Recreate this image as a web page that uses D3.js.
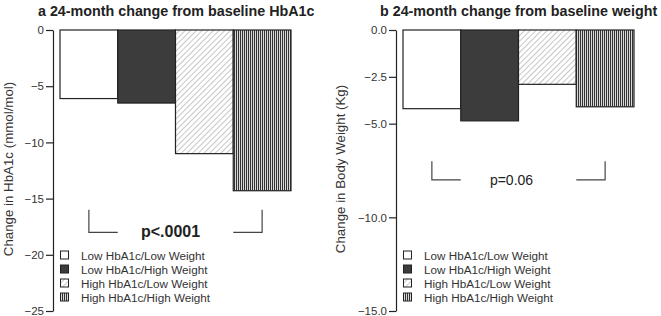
<!DOCTYPE html>
<html>
<head>
<meta charset="utf-8">
<script src="https://cdn.jsdelivr.net/npm/d3@7"></script>
<style>
  body { margin: 0; background: #fff; }
  svg { display: block; font-family: "Liberation Sans", Arial, sans-serif; }
</style>
</head>
<body>
<div id="chart"></div>
<script>
// groups shared by both panels
var groups = ["Low HbA1c/Low Weight", "Low HbA1c/High Weight", "High HbA1c/Low Weight", "High HbA1c/High Weight"];

// panel a: HbA1c change (mmol/mol)
var hba1cChange = [-6.1, -6.5, -11.0, -14.3];
var hba1cTicks = [0, -5, -10, -15, -20, -25];

// panel b: weight change (Kg)
var weightChange = [-4.2, -4.85, -2.9, -4.1];
var weightTicks = [0, -2.5, -5, -10, -15];

var width = 661, height = 316;

var svg = d3.select("#chart").append("svg")
    .attr("width", width)
    .attr("height", height);

// fill patterns
var defs = svg.append("defs");
var hatch = defs.append("pattern")
    .attr("id", "hatch")
    .attr("patternUnits", "userSpaceOnUse")
    .attr("width", 4).attr("height", 4)
    .attr("patternTransform", "rotate(45)");
hatch.append("rect").attr("width", 4).attr("height", 4).attr("fill", "#fff");
hatch.append("line")
    .attr("x1", 0).attr("y1", 0).attr("x2", 0).attr("y2", 4)
    .attr("stroke", "#b8b8b8").attr("stroke-width", 1.6);

var vstripe = defs.append("pattern")
    .attr("id", "vstripe")
    .attr("patternUnits", "userSpaceOnUse")
    .attr("width", 2).attr("height", 4);
vstripe.append("rect").attr("width", 2).attr("height", 4).attr("fill", "#d8d8d8");
vstripe.append("rect").attr("width", 1).attr("height", 4).attr("fill", "#333");

var fills = ["#fff", "#3c3c3c", "url(#hatch)", "url(#vstripe)"];

/*
 * drawPanel
 * Draws one bar panel with its axis, bracket, p-value and legend.
 */
function drawPanel(p) {
    var g = svg.append("g");

    var x = d3.scaleBand()
        .domain(groups)
        .range(p.xRange)
        .padding(0);

    var y = d3.scaleLinear()
        .domain(p.yDomain)
        .range([30, 311]);

    // title
    g.append("text")
        .attr("x", p.titleX)
        .attr("y", 16)
        .attr("font-size", "14.3px")
        .attr("font-weight", "bold")
        .attr("fill", "#222")
        .text(p.title);

    // bars
    g.selectAll("rect.bar")
        .data(p.values)
        .enter().append("rect")
        .attr("class", "bar")
        .attr("x", function(d, i) { return x(groups[i]); })
        .attr("y", y(0))
        .attr("width", x.bandwidth())
        .attr("height", function(d) { return y(d) - y(0); })
        .attr("fill", function(d, i) { return fills[i]; })
        .attr("stroke", "#222")
        .attr("stroke-width", 1.2);

    // y axis
    var axis = d3.axisLeft(y)
        .tickValues(p.ticks)
        .tickFormat(p.fmt)
        .tickSize(7)
        .tickSizeOuter(0)
        .tickPadding(2);

    var ag = g.append("g")
        .attr("transform", "translate(" + p.axisX + ",0)")
        .call(axis);
    ag.select(".domain").attr("stroke", "#222").attr("stroke-width", 1.2);
    ag.selectAll(".tick line").attr("stroke", "#222").attr("stroke-width", 1.2);
    ag.selectAll(".tick text")
        .attr("font-size", "11.5px")
        .attr("font-family", "'Liberation Sans', Arial, sans-serif")
        .attr("fill", "#333");

    // y label
    g.append("text")
        .attr("transform", "translate(" + p.labelX + ",169) rotate(-90)")
        .attr("text-anchor", "middle")
        .attr("font-size", "13.3px")
        .attr("fill", "#333")
        .text(p.yLabel);

    // significance bracket
    var c1 = x(groups[0]) + x.bandwidth() / 2,
        e1 = x(groups[0]) + x.bandwidth(),
        s4 = x(groups[3]),
        c4 = x(groups[3]) + x.bandwidth() / 2;
    var yt = y(p.bracket[0]), yb = y(p.bracket[1]);
    g.append("path")
        .attr("d", "M" + c1 + "," + yt + "V" + yb + "H" + e1)
        .attr("fill", "none").attr("stroke", "#444").attr("stroke-width", 1.2);
    g.append("path")
        .attr("d", "M" + s4 + "," + yb + "H" + c4 + "V" + yt)
        .attr("fill", "none").attr("stroke", "#444").attr("stroke-width", 1.2);

    g.append("text")
        .attr("x", (e1 + s4) / 2 + p.pShift)
        .attr("y", yb + 5)
        .attr("text-anchor", "middle")
        .attr("font-size", p.pBold ? "16px" : "14px")
        .attr("font-weight", p.pBold ? "bold" : "normal")
        .attr("fill", "#222")
        .text(p.pText);

    // legend
    var lx = x(groups[0]);
    var lg = g.selectAll("g.leg")
        .data(groups)
        .enter().append("g")
        .attr("class", "leg")
        .attr("transform", function(d, i) { return "translate(" + lx + "," + (255 + i * 14) + ")"; });
    lg.append("rect")
        .attr("x", 0.5).attr("y", -4)
        .attr("width", 8).attr("height", 8)
        .attr("fill", function(d, i) { return fills[i]; })
        .attr("stroke", "#222").attr("stroke-width", 1);
    lg.append("text")
        .attr("x", 21).attr("y", 4.5)
        .attr("font-size", "11.7px")
        .attr("fill", "#333")
        .text(function(d) { return d; });
}

drawPanel({
    title: "a 24-month change from baseline HbA1c",
    titleX: 38,
    values: hba1cChange,
    ticks: hba1cTicks,
    fmt: d3.format("d"),
    yDomain: [0, -25],
    xRange: [60, 291],
    axisX: 53,
    labelX: 13,
    yLabel: "Change in HbA1c (mmol/mol)",
    bracket: [-16, -18],
    pText: "p<.0001",
    pBold: true,
    pShift: -5
});

drawPanel({
    title: "b 24-month change from baseline weight",
    titleX: 380,
    values: weightChange,
    ticks: weightTicks,
    fmt: d3.format(".1f"),
    yDomain: [0, -15],
    xRange: [403, 634],
    axisX: 396,
    labelX: 345,
    yLabel: "Change in Body Weight (Kg)",
    bracket: [-7, -8],
    pText: "p=0.06",
    pBold: false,
    pShift: -7
});
</script>
</body>
</html>
